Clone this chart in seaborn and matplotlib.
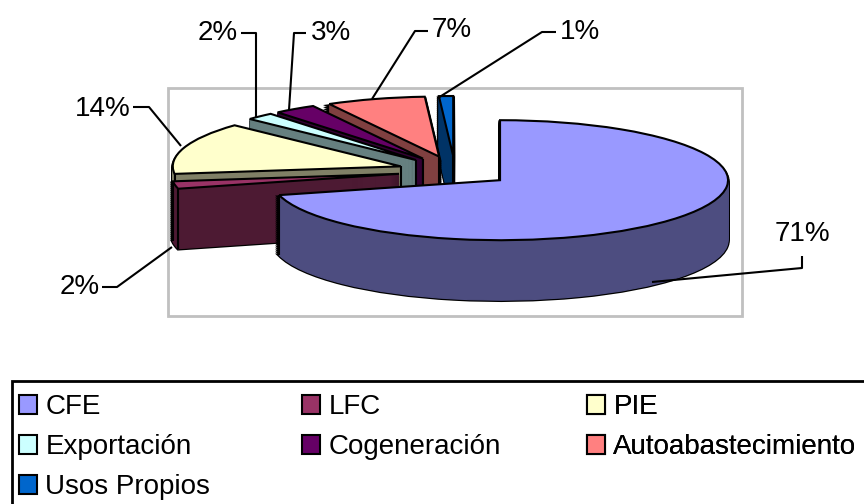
import math
import matplotlib
matplotlib.use("Agg")
import matplotlib.pyplot as plt
from matplotlib.patches import Patch, Rectangle
import seaborn as sns

categories = ["CFE", "LFC", "PIE", "Exportación", "Cogeneración", "Autoabastecimiento", "Usos Propios"]
shares = [71, 2, 14, 2, 3, 7, 1]
labels = ["71%", "2%", "14%", "2%", "3%", "7%", "1%"]
hex_colors = ["#9999FF", "#993366", "#FFFFCC", "#CCFFFF", "#660066", "#FF8080", "#0066CC"]

sns.set_theme(style="white")
plt.rcParams["font.family"] = ["Liberation Sans", "DejaVu Sans"]
palette = sns.color_palette(hex_colors)
dark = [tuple(c * 0.5 for c in col) for col in palette]

W, H = 864, 504
CX, CY, RX, RY, DEPTH = 455, 171, 228, 60, 60
EXPLODE = 0.25
FS = 20

fig = plt.figure(figsize=(W / 100, H / 100), dpi=100, facecolor="white")
ax = fig.add_axes([0, 0, 1, 1])

# back-to-front order of slices from mid-angle
cum, sin_mid = 0, []
total = sum(shares)
for s in shares:
    mid = 90 - 360 * (cum + s / 2) / total
    sin_mid.append(math.sin(math.radians(mid)))
    cum += s
rank = {i: r for r, i in enumerate(sorted(range(len(shares)), key=lambda i: -sin_mid[i]))}


def draw(center_y, colors, z_off, **wp):
    wedges, _ = ax.pie(shares, explode=[EXPLODE] * len(shares), startangle=90, counterclock=False,
                       center=(0, center_y), colors=colors, radius=1, wedgeprops=wp)
    for i, w in enumerate(wedges):
        w.set_zorder(10 + rank[i] * 10 + z_off)
    return wedges


# black silhouette, then side body, then top face
for d in range(DEPTH, 0, -2):
    draw(-d / RY, ["black"] * len(shares), 0, edgecolor="black", linewidth=2.6)
for d in range(DEPTH, 0, -1):
    body = draw(-d / RY, dark, 1 + (DEPTH - d) / DEPTH, linewidth=0.8)
    for w in body:
        w.set_edgecolor(w.get_facecolor())
top = draw(0, palette, 4, edgecolor="black", linewidth=1.5, joinstyle="miter")

# vertical edges of each slice's side: only the ones facing the viewer
for i, w in enumerate(top):
    cx, cy = w.center
    points = []
    if sin_mid[i] > 0:
        points.append((cx, cy))
    for ang in (w.theta1, w.theta2):
        if math.sin(math.radians(ang)) < 0:
            points.append((cx + w.r * math.cos(math.radians(ang)), cy + w.r * math.sin(math.radians(ang))))
    for px, py in points:
        ax.plot([px, px], [py, py - DEPTH / RY], color="black", lw=1.5,
                zorder=10 + rank[i] * 10 + 3, solid_capstyle="butt")

ax.set_aspect("auto")
ax.set_xlim(-CX / RX, (W - CX) / RX)
ax.set_ylim((CY - H) / RY, CY / RY)
ax.set_frame_on(False)
ax.patch.set_visible(False)

# overlay in pixel coordinates for plot frame, leaders, labels
ov = fig.add_axes([0, 0, 1, 1], facecolor="none")
ov.set_xlim(0, W)
ov.set_ylim(H, 0)
ov.axis("off")
ax.set_zorder(1)
ov.set_zorder(2)
fig.add_artist(Rectangle((168 / W, 1 - 316 / H), 574 / W, 228 / H, transform=fig.transFigure,
                         fill=False, edgecolor="#C0C0C0", linewidth=2, zorder=0))

leaders = [
    ((652, 282), (802, 268), (802, 256)),
    ((172, 247), (117, 287), (102, 287)),
    ((181, 146), (149, 107), (133, 107)),
    ((256, 118), (256, 33), (241, 33)),
    ((289, 110), (294, 33), (306, 33)),
    ((372, 99), (415, 31), (428, 31)),
    ((438, 98), (542, 32), (556, 32)),
]
label_pos = [(802, 234), (80, 287), (103, 109), (218, 33), (331, 33), (452, 30), (580, 32)]
for i in range(len(labels)):
    xs, ys = zip(*leaders[i])
    ov.plot(xs, ys, color="black", lw=1.5, solid_capstyle="butt")
    ov.text(*label_pos[i], labels[i], fontsize=FS, ha="center", va="center", color="black")

# legend frame runs past the right and bottom picture edges
ov.add_patch(Rectangle((12, 381), 900, 170, fill=True, facecolor="white", edgecolor="black", linewidth=2))
handles = [Patch(facecolor=c, edgecolor="black", linewidth=1.5, label=n) for c, n in zip(palette, categories)]
columns = [([0, 3, 6], 19), ([1, 4], 302), ([2, 5], 587)]
for idx, x0 in columns:
    leg = ov.legend([handles[i] for i in idx], [categories[i] for i in idx], loc="upper left",
                    bbox_to_anchor=(x0 / W, 1 - 394.5 / H), bbox_transform=fig.transFigure,
                    fontsize=FS, frameon=False, handlelength=0.65, handleheight=0.65,
                    handletextpad=0.3, labelspacing=0.5, borderpad=0, borderaxespad=0,
                    labelcolor="black")
    ov.add_artist(leg)

fig.savefig("out.png", dpi=100)
